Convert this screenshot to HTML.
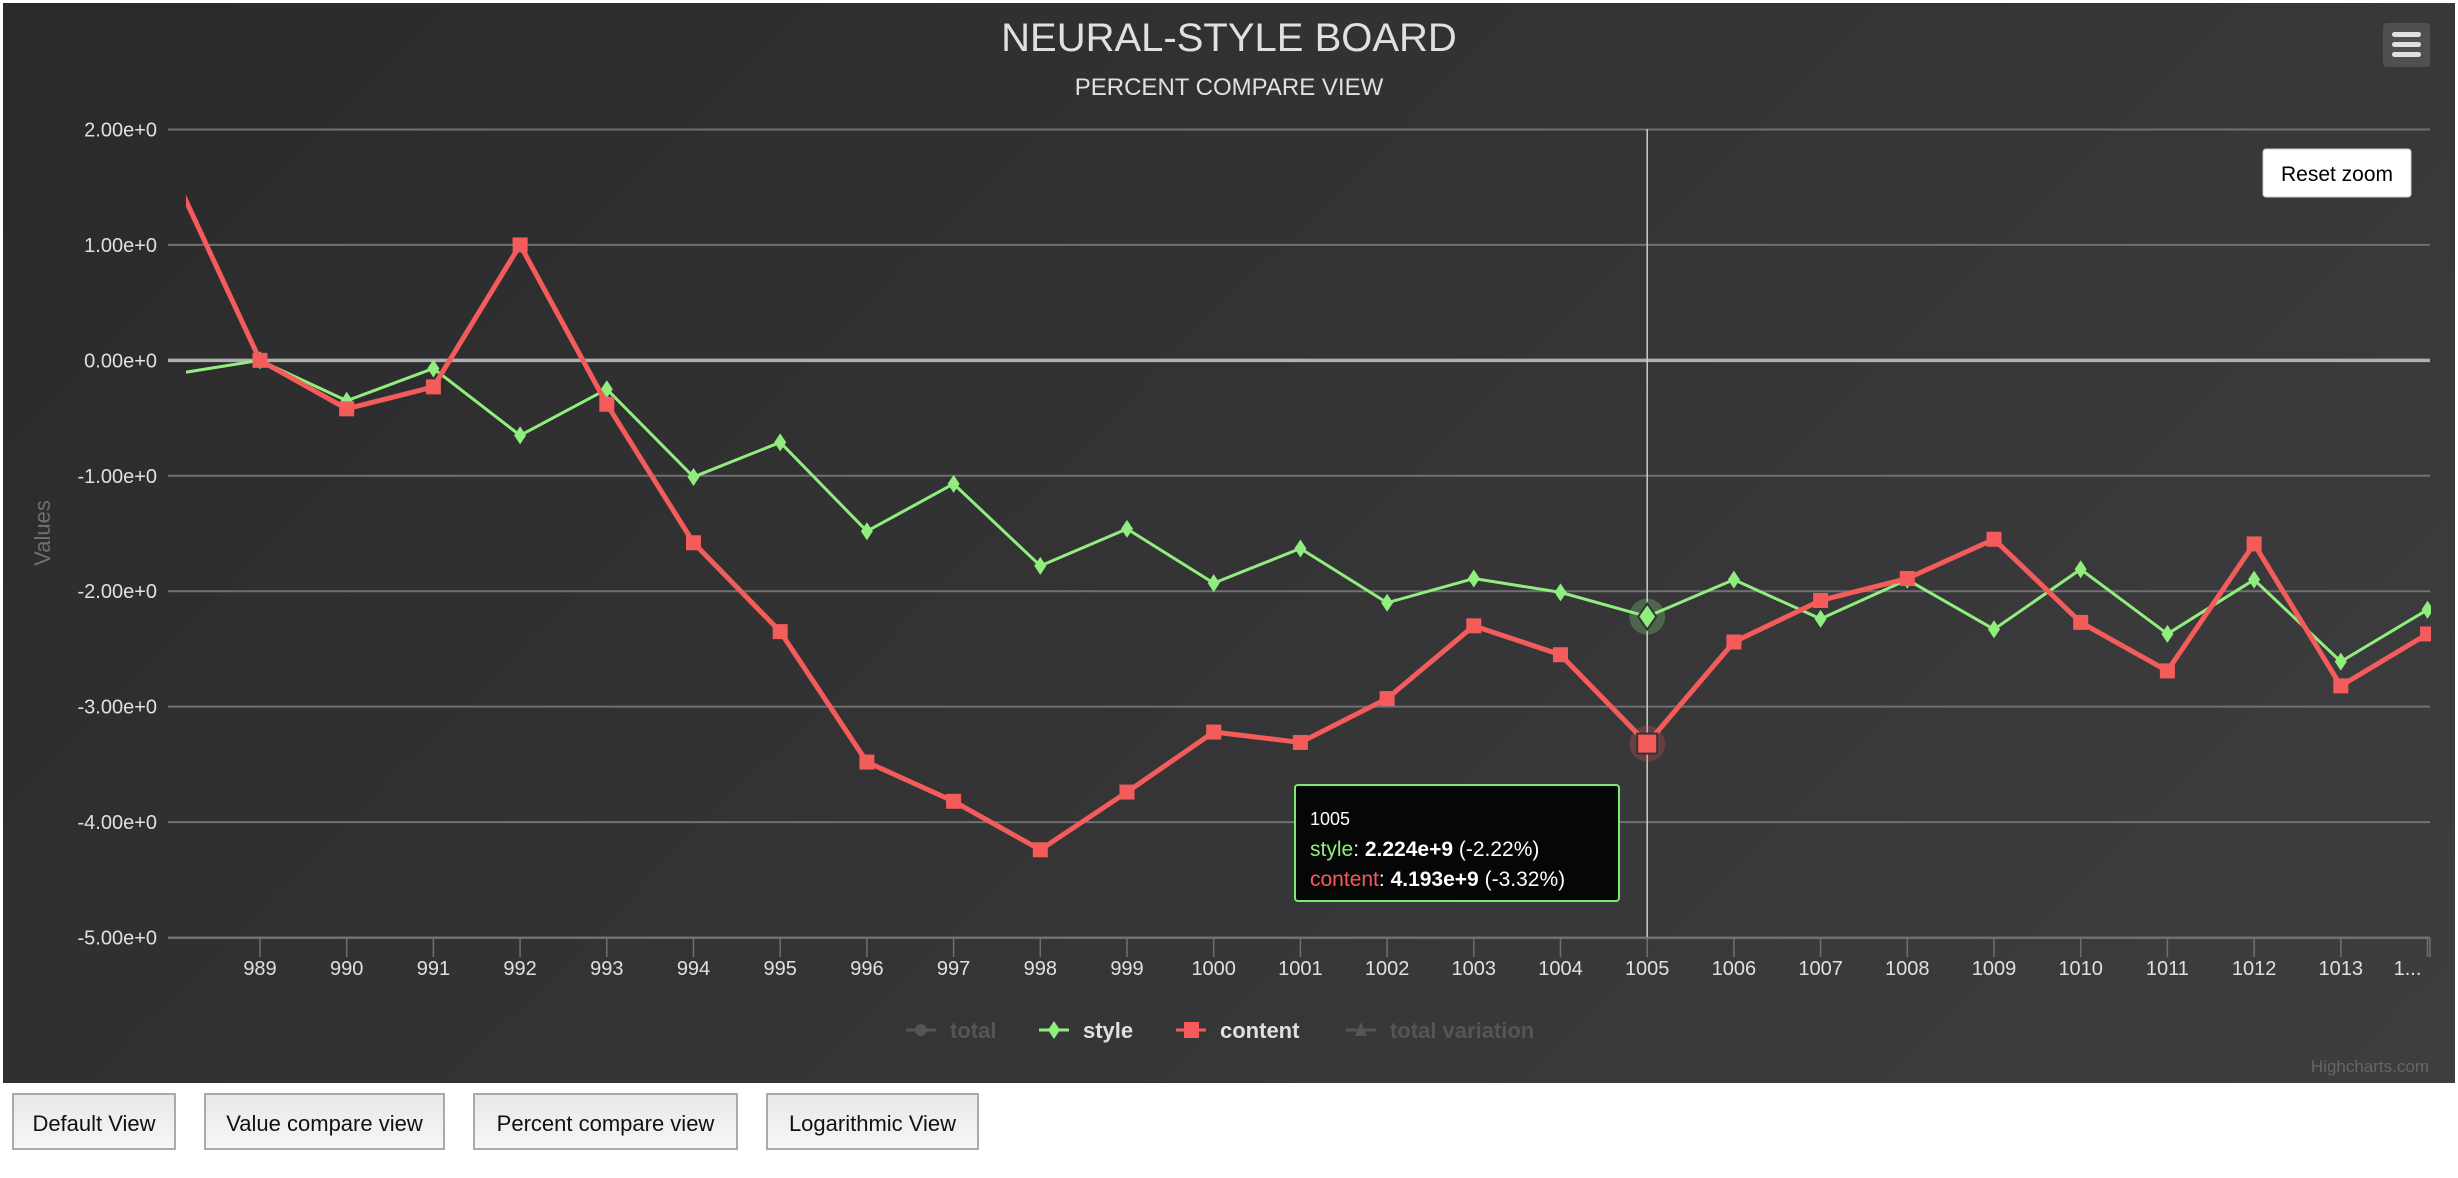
<!DOCTYPE html>
<html><head><meta charset="utf-8"><style>
body{margin:0;width:2458px;height:1178px;background:#fff;overflow:hidden;font-family:"Liberation Sans",sans-serif;position:relative}
#chart{position:absolute;left:3px;top:3px;width:2452px;height:1080px;background:linear-gradient(135deg,#2a2a2b 0%,#3e3e40 100%)}
.btn{position:absolute;top:1093px;height:57px;border:2px solid #aaa;background:linear-gradient(#e8e8e8,#f6f6f6);font-size:22px;line-height:57px;text-align:center;box-sizing:border-box;color:#111}
</style></head><body>
<svg id="chart" width="2452" height="1080" viewBox="3 3 2452 1080" xmlns="http://www.w3.org/2000/svg" font-family="Liberation Sans, sans-serif">
<defs><clipPath id="pc"><rect x="186" y="110" width="2245" height="840"/></clipPath></defs>
<text x="1229" y="51" text-anchor="middle" font-size="40" fill="#e0e0e3">NEURAL-STYLE BOARD</text>
<text x="1229" y="95" text-anchor="middle" font-size="24" fill="#e0e0e3">PERCENT COMPARE VIEW</text>
<g id="grid"></g>
<text transform="translate(50,533) rotate(-90)" text-anchor="middle" font-size="22" fill="#707073">Values</text>
<g id="xaxis"></g>
<line id="cross" y1="129" y2="937" stroke="#ccc" stroke-width="1.5"/>
<g id="series" clip-path="url(#pc)"></g>
<g>
<rect x="1295" y="785" width="324" height="116" rx="3" fill="#060606" stroke="#7cea6e" stroke-width="2"/>
<text x="1310" y="825" font-size="18" fill="#fff">1005</text>
<text x="1310" y="856" font-size="21" fill="#fff"><tspan fill="#90ee7e">style</tspan>: <tspan font-weight="bold">2.224e+9</tspan> (-2.22%)</text>
<text x="1310" y="886" font-size="21" fill="#fff"><tspan fill="#f45b5b">content</tspan>: <tspan font-weight="bold">4.193e+9</tspan> (-3.32%)</text>
</g>
<g font-size="22" font-weight="bold">
<g><line x1="906" y1="1030" x2="936" y2="1030" stroke="#555" stroke-width="3"/><circle cx="921" cy="1030" r="6" fill="#555"/><text x="950" y="1038" fill="#555">total</text></g>
<g><line x1="1039" y1="1030" x2="1069" y2="1030" stroke="#90ee7e" stroke-width="3"/><path d="M1054 1021 L1060 1030 L1054 1039 L1048 1030Z" fill="#90ee7e"/><text x="1083" y="1038" fill="#e0e0e3">style</text></g>
<g><line x1="1176" y1="1030" x2="1206" y2="1030" stroke="#f45b5b" stroke-width="3"/><rect x="1184" y="1022" width="15" height="16" fill="#f45b5b"/><text x="1220" y="1038" fill="#e0e0e3">content</text></g>
<g><line x1="1346" y1="1030" x2="1376" y2="1030" stroke="#555" stroke-width="3"/><path d="M1361 1022 L1367 1036 L1355 1036Z" fill="#555"/><text x="1390" y="1038" fill="#555">total variation</text></g>
</g>
<text x="2429" y="1072" text-anchor="end" font-size="17" fill="#666">Highcharts.com</text>
<g><rect x="2263" y="149" width="148" height="48" rx="3" fill="#fff" stroke="#ccc"/><text x="2337" y="181" text-anchor="middle" font-size="21" fill="#000">Reset zoom</text></g>
<g><rect x="2383" y="23" width="47" height="44" rx="4" fill="#505053"/><rect x="2392" y="32" width="29" height="5" rx="2.5" fill="#e0e0e0"/><rect x="2392" y="42" width="29" height="5" rx="2.5" fill="#e0e0e0"/><rect x="2392" y="52" width="29" height="5" rx="2.5" fill="#e0e0e0"/></g>
</svg>
<div class="btn" style="left:12px;width:164px">Default View</div>
<div class="btn" style="left:204px;width:241px">Value compare view</div>
<div class="btn" style="left:473px;width:265px">Percent compare view</div>
<div class="btn" style="left:766px;width:213px">Logarithmic View</div>
<script>
const categories=[988,989,990,991,992,993,994,995,996,997,998,999,1000,1001,1002,1003,1004,1005,1006,1007,1008,1009,1010,1011,1012,1013,1014];
const styleValues=[-0.12,0,-0.35,-0.07,-0.65,-0.25,-1.01,-0.71,-1.48,-1.07,-1.78,-1.46,-1.93,-1.63,-2.10,-1.89,-2.01,-2.22,-1.90,-2.24,-1.90,-2.33,-1.81,-2.37,-1.90,-2.61,-2.16];
const contentValues=[1.62,0,-0.42,-0.23,1.00,-0.38,-1.58,-2.35,-3.48,-3.82,-4.24,-3.74,-3.22,-3.31,-2.93,-2.30,-2.55,-3.32,-2.44,-2.08,-1.89,-1.55,-2.27,-2.69,-1.59,-2.82,-2.37];
const yTicks=[2,1,0,-1,-2,-3,-4,-5];
const yTickLabels=["2.00e+0","1.00e+0","0.00e+0","-1.00e+0","-2.00e+0","-3.00e+0","-4.00e+0","-5.00e+0"];
const xTickLabels=["989","990","991","992","993","994","995","996","997","998","999","1000","1001","1002","1003","1004","1005","1006","1007","1008","1009","1010","1011","1012","1013","1..."];
const hoverCategory=1005;
const NS="http://www.w3.org/2000/svg";
const X=c=>260+(c-989)*86.7;
const Y=v=>129.5+(2-v)*115.43;
function mk(t,a,p){const e=document.createElementNS(NS,t);for(const k in a)e.setAttribute(k,a[k]);p.appendChild(e);return e;}
const grid=document.getElementById('grid');
yTicks.forEach((v,i)=>{
 const l=mk('line',{x1:168,x2:2430,y1:Y(v),y2:Y(v),stroke:v===0?'#b0b0b0':'#707073','stroke-width':v===0?3.5:2},grid);
 
 
 const t=mk('text',{x:157,y:Y(v)+7,'text-anchor':'end','font-size':20,fill:'#e0e0e3'},grid);
 t.textContent=yTickLabels[i];
 
 
});
const xa=document.getElementById('xaxis');
mk('line',{x1:168,x2:2430,y1:938,y2:938,stroke:'#707073','stroke-width':2},xa);
xTickLabels.forEach((s,i)=>{
 const c=989+i, x=X(c);
 mk('line',{x1:x,x2:x,y1:938,y2:957,stroke:'#707073','stroke-width':1.5},xa);
 const t=mk('text',{x:i===xTickLabels.length-1?x-20:x,y:975,'text-anchor':'middle','font-size':20,fill:'#e0e0e3'},xa);
 t.textContent=s;
 
 
});
mk('line',{x1:2430,x2:2430,y1:938,y2:957,stroke:'#707073','stroke-width':1.5},xa);
const cr=document.getElementById('cross');cr.setAttribute('x1',X(hoverCategory));cr.setAttribute('x2',X(hoverCategory));
const sg=document.getElementById('series');
function series(vals,color,w,name,marker){
 const pts=vals.map((v,i)=>X(categories[i])+','+Y(v)).join(' ');
 const pl=mk('polyline',{points:pts,fill:'none',stroke:color,'stroke-width':w,'stroke-linejoin':'round'},sg);
 
 
 vals.forEach((v,i)=>{
  const x=X(categories[i]),y=Y(v),h=categories[i]===hoverCategory;
  let m;
  if(h){const halo=mk('circle',{cx:x,cy:y,r:18,fill:color,'fill-opacity':0.25},sg);}
  if(marker==='sq'){const s=h?20:15;m=mk('rect',{x:x-s/2,y:y-s/2,width:s,height:s,fill:color,stroke:h?'#333':'none','stroke-width':2},sg);}
  else{const a=h?9:6,b=h?13:9;m=mk('path',{d:`M${x} ${y-b}L${x+a} ${y}L${x} ${y+b}L${x-a} ${y}Z`,fill:color,stroke:h?'#333':'none','stroke-width':2},sg);}
  
  
 });
}
series(styleValues,'#90ee7e',3,'style','dm');
series(contentValues,'#f45b5b',5,'content','sq');
</script>
</body></html>
